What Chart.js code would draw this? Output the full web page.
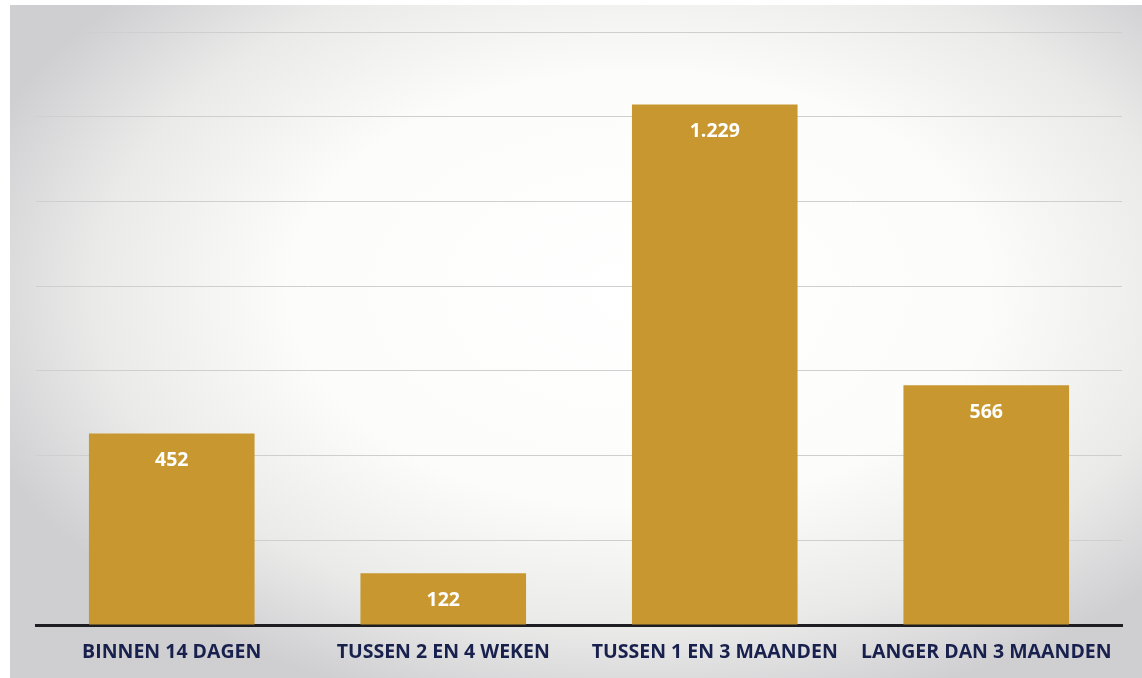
<!DOCTYPE html>
<html>
<head>
<meta charset="utf-8">
<script src="https://cdn.jsdelivr.net/npm/chart.js@4/dist/chart.umd.min.js"></script>
<style>
html,body{margin:0;padding:0;background:#fff;}
#wrap{width:1142px;height:678px;position:relative;}
</style>
</head>
<body>
<div id="wrap"><canvas id="grafiek"></canvas></div>
<script>
// doorlooptijden
const categorieen = ["BINNEN 14 DAGEN", "TUSSEN 2 EN 4 WEKEN", "TUSSEN 1 EN 3 MAANDEN", "LANGER DAN 3 MAANDEN"];
const aantallen = [452, 122, 1229, 566];
const yMax = 1400;
const yStap = 200;

function formatNL(n){
  return String(n).replace(/\B(?=(\d{3})+(?!\d))/g, ".");
}

// papieren achtergrond met lichte vignet
const achtergrond = {
  id: "achtergrond",
  beforeDraw(chart){
    const ctx = chart.ctx;
    ctx.save();
    ctx.fillStyle = "#ffffff";
    ctx.fillRect(0, 0, chart.width, chart.height);
    ctx.beginPath();
    ctx.rect(10, 5, chart.width - 10, chart.height - 5);
    ctx.clip();
    ctx.translate(640, 290);
    ctx.scale(1, 0.62);
    const g = ctx.createRadialGradient(0, 0, 0, 0, 0, 700);
    g.addColorStop(0, "#ffffff");
    g.addColorStop(0.5, "#fcfcfb");
    g.addColorStop(0.78, "#eaeae9");
    g.addColorStop(1, "#cfcfd2");
    ctx.fillStyle = g;
    ctx.fillRect(-700, -1200, 1600, 2400);
    ctx.restore();
  }
};

// waarden in de staven
const waardeLabels = {
  id: "waardeLabels",
  afterDatasetsDraw(chart){
    const ctx = chart.ctx;
    const meta = chart.getDatasetMeta(0);
    ctx.save();
    ctx.fillStyle = "#ffffff";
    ctx.font = "bold 19.5px 'Open Sans', sans-serif";
    ctx.textAlign = "center";
    ctx.textBaseline = "middle";
    meta.data.forEach((bar, i) => {
      ctx.fillText(formatNL(aantallen[i]), bar.x, bar.y + 27);
    });
    ctx.restore();
  }
};

new Chart(
  document.getElementById("grafiek"),
  {
    type: "bar",
    data: {
      labels: categorieen,
      datasets: [{
        data: aantallen,
        backgroundColor: "#c8972f",
        borderWidth: 0,
        categoryPercentage: 1,
        barPercentage: 0.61
      }]
    },
    options: {
      responsive: true,
      maintainAspectRatio: false,
      animation: false,
      layout: { padding: { left: 36, right: 20, top: 32, bottom: 0 } },
      plugins: {
        legend: { display: false },
        tooltip: { enabled: false }
      },
      scales: {
        x: {
          grid: { display: false, drawTicks: false },
          border: { display: true, color: "#1e1e22", width: 3 },
          ticks: {
            color: "#18214d",
            font: { family: "'Open Sans', sans-serif", weight: "bold", size: 19.5 },
            padding: 16,
            maxRotation: 0,
            autoSkip: false
          },
          afterFit: s => { s.height = 53; }
        },
        y: {
          min: 0,
          max: yMax,
          ticks: { display: false, stepSize: yStap },
          grid: { color: "#cfcfcf", lineWidth: 1, drawTicks: false },
          border: { display: false },
          afterFit: s => { s.width = 0; }
        }
      }
    },
    plugins: [achtergrond, waardeLabels]
  }
);
</script>
</body>
</html>
